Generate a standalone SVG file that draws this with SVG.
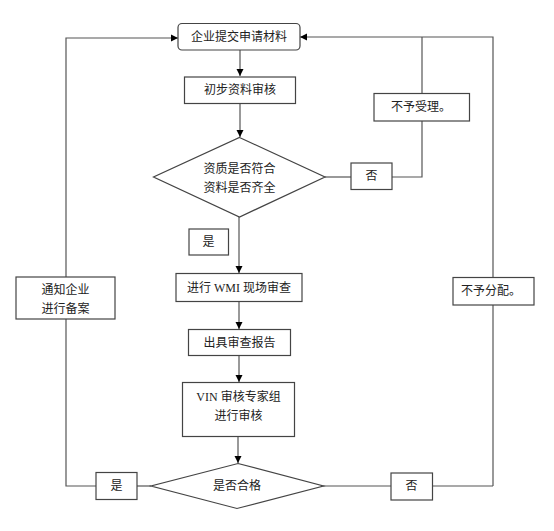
<svg xmlns="http://www.w3.org/2000/svg" width="554" height="531" viewBox="0 0 554 531">
<defs>
<marker id="arr" markerWidth="8" markerHeight="8" refX="7" refY="4" orient="auto" markerUnits="userSpaceOnUse">
<path d="M0,0.5 L7,4 L0,7.5 Z" fill="#000"/>
</marker>
<style>
.box{fill:#fff;stroke:#444;stroke-width:1.2}
.ln{fill:none;stroke:#555;stroke-width:1.2}
.t{font-family:"Liberation Serif","Noto Sans CJK SC",serif;font-size:12px;fill:#222;text-anchor:middle;dominant-baseline:central}
</style>
</defs>
<rect width="554" height="531" fill="#fff"/>
<g id="connectors">
<path class="ln" d="M240,50 V76" marker-end="url(#arr)"/>
<path class="ln" d="M240,103 V137" marker-end="url(#arr)"/>
<path class="ln" d="M239,217 V273" marker-end="url(#arr)"/>
<path class="ln" d="M239,302 V329" marker-end="url(#arr)"/>
<path class="ln" d="M239,356 V382" marker-end="url(#arr)"/>
<path class="ln" d="M238,437 V463" marker-end="url(#arr)"/>
<path class="ln" d="M325,177 H351"/>
<path class="ln" d="M392,177 H422 V121"/>
<path class="ln" d="M422,93 V37"/>
<path class="ln" d="M493,486 H433"/>
<path class="ln" d="M391,486 H323"/>
<path class="ln" d="M493,486 V305"/>
<path class="ln" d="M493,277 V37 H300" marker-end="url(#arr)"/>
<path class="ln" d="M151,486 H137"/>
<path class="ln" d="M96,486 H66 V319"/>
<path class="ln" d="M66,277 V38 H178" marker-end="url(#arr)"/>
</g>
<g id="n-submit"><rect class="box" x="178" y="23.5" width="122" height="26.5" rx="4"/><text class="t" x="239" y="37">企业提交申请材料</text></g>
<g id="n-initial"><rect class="box" x="184.5" y="77" width="111" height="26.5"/><text class="t" x="240" y="90">初步资料审核</text></g>
<g id="n-check"><polygon class="box" points="239.5,137.5 325,177 239.5,217 153.5,177"/><text class="t" x="239.5" y="169">资质是否符合</text><text class="t" x="239.5" y="187.5">资料是否齐全</text></g>
<g id="n-yes1"><rect class="box" x="189" y="229" width="39.5" height="26"/><text class="t" x="208.5" y="242">是</text></g>
<g id="n-no1"><rect class="box" x="351" y="163" width="41" height="26.5"/><text class="t" x="371.5" y="176">否</text></g>
<g id="n-reject"><rect class="box" x="374" y="93.5" width="95.5" height="27.5"/><text class="t" x="421" y="107">不予受理。</text></g>
<g id="n-wmi"><rect class="box" x="176" y="273.5" width="126" height="28"/><text class="t" x="239" y="287.5">进行 WMI 现场审查</text></g>
<g id="n-report"><rect class="box" x="188.5" y="329.5" width="102" height="26"/><text class="t" x="239.5" y="342.5">出具审查报告</text></g>
<g id="n-vin"><rect class="box" x="182.5" y="382.5" width="112" height="54"/><text class="t" x="238.5" y="397">VIN 审核专家组</text><text class="t" x="238.5" y="415.5">进行审核</text></g>
<g id="n-pass"><polygon class="box" points="238,463.5 323.5,486 237,508.5 151,486"/><text class="t" x="237" y="486">是否合格</text></g>
<g id="n-yes2"><rect class="box" x="96" y="472.5" width="41" height="27"/><text class="t" x="116.5" y="486">是</text></g>
<g id="n-no2"><rect class="box" x="391" y="473" width="41.5" height="27"/><text class="t" x="411.5" y="486">否</text></g>
<g id="n-notify"><rect class="box" x="16" y="277" width="99" height="42"/><text class="t" x="65.5" y="289.5">通知企业</text><text class="t" x="65.5" y="308.5">进行备案</text></g>
<g id="n-deny"><rect class="box" x="453" y="277.5" width="81" height="27.5"/><text class="t" x="491" y="291">不予分配。</text></g>
</svg>
